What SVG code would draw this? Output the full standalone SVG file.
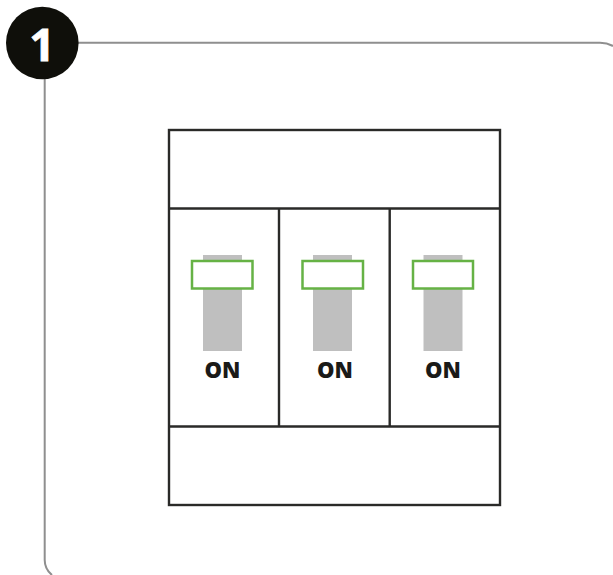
<svg xmlns="http://www.w3.org/2000/svg" width="613" height="575" viewBox="0 0 613 575">
<style>
.frame{fill:none;stroke:#8f8f8f;stroke-width:2}
.line{fill:none;stroke:#2a2a28;stroke-width:2.400}
.lever{fill:#bfbfbf}
.handle{fill:#fff;stroke:#66b245;stroke-width:2.500}
.on{font-family:"Open Sans","Liberation Sans",sans-serif;font-weight:800;font-size:22px;fill:#1a1a18;text-anchor:middle}
</style>
<rect width="613" height="575" fill="#fff"/>
<g id="frame"><path class="frame" d="M78 42.800H600Q607 42.800 613 46M44.700 79V560Q44.700 569 52 575"/></g>
<g id="badge"><circle cx="42.300" cy="43" r="36.300" fill="#0f0f0a"/>
<text x="42" y="61" font-family="Open Sans,Liberation Sans,sans-serif" font-weight="700" font-size="45" fill="#fff" stroke="#fff" stroke-width="0.800" text-anchor="middle">1</text></g>
<g id="breaker">
<rect class="line" x="169" y="130" width="331" height="375"/>
<path class="line" d="M169 208.500H500M169 426.500H500M279 208.500V426.500M389.700 208.500V426.500"/>
</g>
<g id="switch-1"><rect class="lever" x="203" y="255" width="39" height="96"/><rect class="handle" x="192" y="261" width="60.500" height="27.500"/><text class="on" x="222.500" y="378">ON</text></g>
<g id="switch-2"><rect class="lever" x="313" y="255" width="39" height="96"/><rect class="handle" x="302.500" y="261" width="60.500" height="27.500"/><text class="on" x="335" y="378">ON</text></g>
<g id="switch-3"><rect class="lever" x="423.500" y="255" width="39" height="96"/><rect class="handle" x="413" y="261" width="60" height="27.500"/><text class="on" x="443" y="378">ON</text></g>
</svg>
